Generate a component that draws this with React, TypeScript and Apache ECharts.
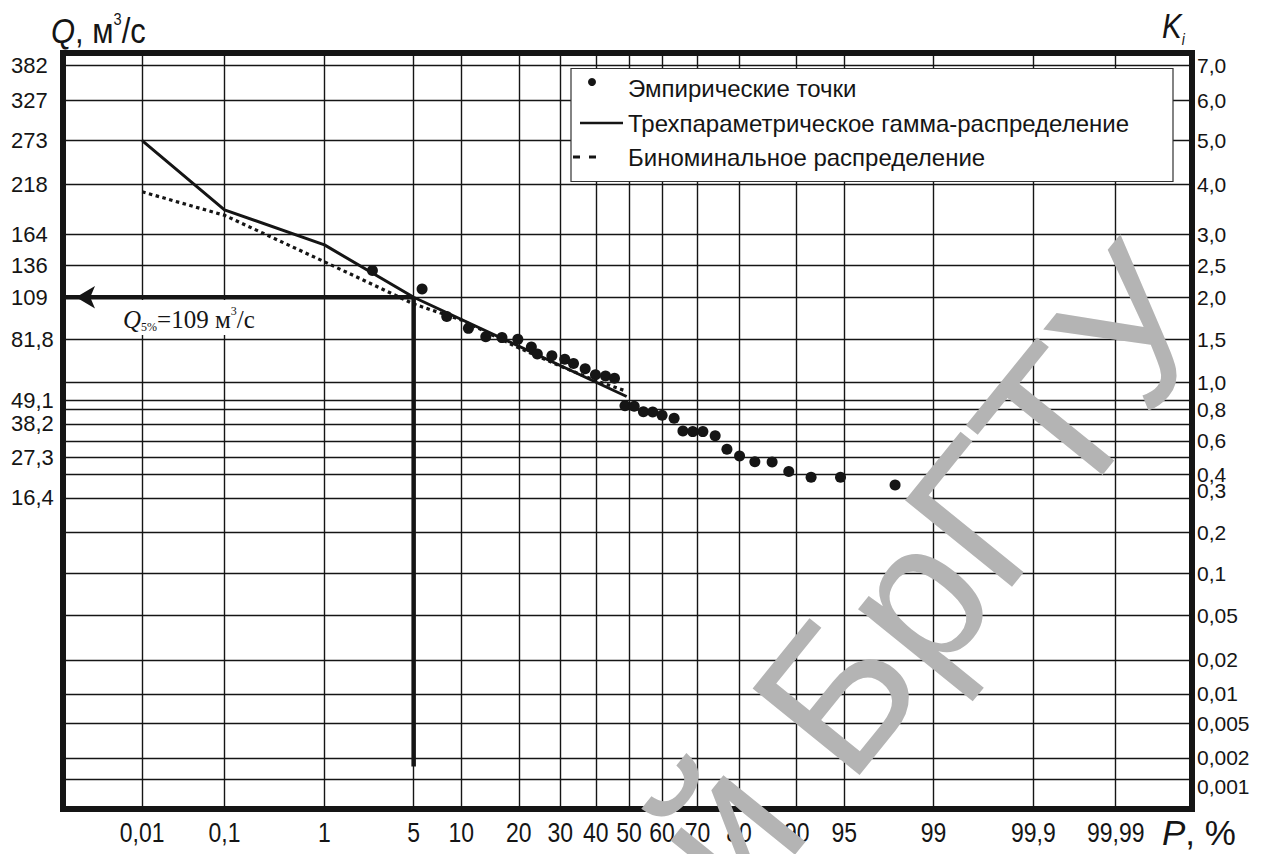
import React, { useEffect, useRef } from "react";
import * as echarts from "echarts";

// Exceedance probability grid, %
const pTicks = [0.01, 0.1, 1, 5, 10, 20, 30, 40, 50, 60, 70, 80, 90, 95, 99, 99.9, 99.99];
const pTickLabels = ["0,01", "0,1", "1", "5", "10", "20", "30", "40", "50", "60", "70", "80", "90", "95", "99", "99,9", "99,99"];

// Modular coefficient grid: K values and their ordinates on the probability paper (% of its height)
const kTicks = [0.001, 0.002, 0.005, 0.01, 0.02, 0.05, 0.1, 0.2, 0.3, 0.4, 0.5, 0.6, 0.7, 0.8, 0.9, 1.0, 1.5, 2.0, 2.5, 3.0, 4.0, 5.0, 6.0, 7.0];
const kOrdinates = [3.97, 6.75, 11.34, 15.24, 19.71, 25.66, 31.18, 36.6, 41.14, 44.25, 46.49, 48.68, 50.93, 52.84, 54.1, 56.42, 62.13, 67.69, 71.89, 76.02, 82.63, 88.4, 93.78, 98.32];
const kTickLabels = ["0,001", "0,002", "0,005", "0,01", "0,02", "0,05", "0,1", "0,2", "0,3", "0,4", "", "0,6", "", "0,8", "", "1,0", "1,5", "2,0", "2,5", "3,0", "4,0", "5,0", "6,0", "7,0"];

// Discharge scale on the left (Q = K · Qmean)
const qTicksK = [7.0, 6.0, 5.0, 4.0, 3.0, 2.5, 2.0, 1.5, 0.9, 0.7, 0.5, 0.3];
const qTickLabels = ["382", "327", "273", "218", "164", "136", "109", "81,8", "49,1", "38,2", "27,3", "16,4"];

// Empirical points
const empiricalP = [2.5, 5.7, 8.2, 11.0, 13.7, 16.6, 19.8, 22.8, 24.2, 27.8, 31.2, 33.6, 36.9, 39.9, 42.9, 45.6, 48.8, 51.6, 54.4, 57.2, 60.0, 63.5, 66.0, 68.7, 71.4, 74.5, 77.3, 80.1, 83.2, 86.3, 88.9, 91.8, 94.7, 97.9];
const empiricalK = [2.42, 2.13, 1.77, 1.63, 1.53, 1.52, 1.5, 1.41, 1.33, 1.31, 1.27, 1.22, 1.16, 1.09, 1.075, 1.05, 0.84, 0.835, 0.785, 0.783, 0.76, 0.739, 0.659, 0.655, 0.655, 0.631, 0.55, 0.509, 0.475, 0.474, 0.417, 0.388, 0.388, 0.355];

// Three-parameter gamma distribution
const gammaP = [0.01, 0.1, 1, 5, 49.3];
const gammaK = [5.0, 3.49, 2.83, 2.0, 0.92];

// Binomial distribution
const binomP = [0.01, 0.1, 1, 5, 10, 20, 30, 40, 49.3];
const binomK = [3.85, 3.38, 2.56, 1.92, 1.73, 1.4, 1.19, 1.02, 0.95];

// Design discharge of 5 % exceedance
const designP = 5;
const designK = 2.0;
const designLineEndK = 0.0016;

const legendNames = ["Эмпирические точки", "Трехпараметрическое гамма-распределение", "Биноминальное распределение"];

// Inverse of the standard normal distribution (Acklam)
function normInv(p: number): number {
  const a = [-3.969683028665376e1, 2.209460984245205e2, -2.759285104469687e2, 1.38357751867269e2, -3.066479806614716e1, 2.506628277459239];
  const b = [-5.447609879822406e1, 1.615858368580409e2, -1.556989798598866e2, 6.680131188771972e1, -1.328068155288572e1];
  const c = [-7.784894002430293e-3, -3.223964580411365e-1, -2.400758277161838, -2.549732539343734, 4.374664141464968, 2.938163982698783];
  const d = [7.784695709041462e-3, 3.224671290700398e-1, 2.445134137142996, 3.754408661907416];
  const pl = 0.02425;
  if (p < pl) {
    const q = Math.sqrt(-2 * Math.log(p));
    return (((((c[0] * q + c[1]) * q + c[2]) * q + c[3]) * q + c[4]) * q + c[5]) / ((((d[0] * q + d[1]) * q + d[2]) * q + d[3]) * q + 1);
  }
  if (p > 1 - pl) {
    const q = Math.sqrt(-2 * Math.log(1 - p));
    return -(((((c[0] * q + c[1]) * q + c[2]) * q + c[3]) * q + c[4]) * q + c[5]) / ((((d[0] * q + d[1]) * q + d[2]) * q + d[3]) * q + 1);
  }
  const q = p - 0.5;
  const r = q * q;
  return ((((((a[0] * r + a[1]) * r + a[2]) * r + a[3]) * r + a[4]) * r + a[5]) * q) / (((((b[0] * r + b[1]) * r + b[2]) * r + b[3]) * r + b[4]) * r + 1);
}

// Probability (%) to the normal-probability abscissa
const px = (p: number) => normInv(p / 100);

// K to the paper ordinate, piecewise between grid lines
function ky(k: number): number {
  for (let i = 0; i < kTicks.length - 1; i++) {
    if (k >= kTicks[i] && k <= kTicks[i + 1]) {
      const t = (k - kTicks[i]) / (kTicks[i + 1] - kTicks[i]);
      return kOrdinates[i] + t * (kOrdinates[i + 1] - kOrdinates[i]);
    }
  }
  return k < kTicks[0] ? kOrdinates[0] : kOrdinates[kOrdinates.length - 1];
}

const X_MIN = -4.324;
const X_MAX = 4.302;

const INK = "#151515";
const SANS = "'Liberation Sans', Arial, sans-serif";
const SERIF = "'Liberation Serif', 'Times New Roman', serif";
// condensed lettering of the axis captions
const NARROW_SCALE = 0.82;

function lookup(values: number[], labels: string[], v: number): string {
  for (let i = 0; i < values.length; i++) if (Math.abs(values[i] - v) < 1e-6) return labels[i];
  return "";
}

function buildOption(extraGraphic: any[]) {
  const xTickValues = pTicks.map(px);
  const kTickValues = kTicks.map(ky);
  const qTickValues = qTicksK.map(ky);
  const gridLine = { show: true, lineStyle: { color: INK, width: 1.4 } };

  return {
    animation: false,
    backgroundColor: "#ffffff",
    grid: {
      left: 63,
      top: 53,
      width: 1129,
      height: 756,
      show: true,
      borderColor: INK,
      borderWidth: 6,
      backgroundColor: "transparent",
    },
    xAxis: {
      type: "value",
      min: X_MIN,
      max: X_MAX,
      axisLine: { show: false },
      axisTick: { show: false, customValues: xTickValues },
      splitLine: gridLine,
      axisLabel: { show: false },
    },
    yAxis: [
      {
        type: "value",
        position: "left",
        min: 0,
        max: 100,
        axisLine: { show: false },
        axisTick: { show: false, customValues: kTickValues },
        splitLine: gridLine,
        axisLabel: {
          customValues: qTickValues,
          formatter: (v: number) => lookup(qTickValues, qTickLabels, v),
          showMinLabel: true,
          showMaxLabel: true,
          hideOverlap: false,
          fontFamily: SANS,
          fontSize: 22,
          lineHeight: 14,
          color: INK,
          align: "left",
          margin: 52,
        },
      },
      {
        type: "value",
        position: "right",
        min: 0,
        max: 100,
        axisLine: { show: false },
        axisTick: { show: false },
        splitLine: { show: false },
        axisLabel: { show: false },
      },
    ],
    series: [
      {
        name: legendNames[1],
        type: "line",
        data: gammaP.map((p, i) => [px(p), ky(gammaK[i])]),
        symbol: "none",
        lineStyle: { color: INK, width: 3 },
        z: 5,
      },
      {
        name: legendNames[2],
        type: "line",
        data: binomP.map((p, i) => [px(p), ky(binomK[i])]),
        symbol: "none",
        lineStyle: { color: INK, width: 3.2, type: [3.5, 3.5] },
        z: 5,
      },
      {
        name: legendNames[0],
        type: "scatter",
        data: empiricalP.map((p, i) => [px(p), ky(empiricalK[i])]),
        symbol: "circle",
        symbolSize: 11,
        itemStyle: { color: INK, opacity: 1 },
        z: 6,
      },
      {
        name: "design-horizontal",
        type: "line",
        data: [
          [px(designP), ky(designK)],
          [X_MIN, ky(designK)],
        ],
        symbol: "none",
        lineStyle: { color: INK, width: 4.5 },
        z: 4,
      },
      {
        name: "design-vertical",
        type: "line",
        data: [
          [px(designP), ky(designK)],
          [px(designP), ky(designLineEndK)],
        ],
        symbol: "none",
        lineStyle: { color: INK, width: 4.5 },
        z: 4,
      },
      {
        name: "design-arrow",
        type: "scatter",
        data: [[X_MIN, ky(designK)]],
        symbol: "arrow",
        symbolSize: [17, 19],
        symbolRotate: 90,
        symbolOffset: [13, 0],
        itemStyle: { color: INK, opacity: 1 },
        z: 7,
      },
    ],
    graphic: [
      // axis titles
      {
        type: "text",
        x: 51,
        y: 30,
        z: 20,
        scaleX: 0.86,
        style: {
          text: "{q|Q}{t|, м}{s|3}{t|/с}",
          verticalAlign: "middle",
          rich: {
            q: { fontFamily: SANS, fontSize: 36, fontStyle: "italic", fill: INK, lineHeight: 38, verticalAlign: "bottom" },
            t: { fontFamily: SANS, fontSize: 36, fill: INK, lineHeight: 38, verticalAlign: "bottom" },
            s: { fontFamily: SANS, fontSize: 17, fill: INK, lineHeight: 38, verticalAlign: "top" },
          },
        },
      },
      {
        type: "text",
        x: 1162,
        y: 27,
        z: 20,
        scaleX: NARROW_SCALE,
        style: {
          text: "{k|K}{i|i}",
          verticalAlign: "middle",
          rich: {
            k: { fontFamily: SANS, fontSize: 36, fontStyle: "italic", fill: INK, lineHeight: 40, verticalAlign: "top" },
            i: { fontFamily: SANS, fontSize: 17, fontStyle: "italic", fill: INK, lineHeight: 40, verticalAlign: "bottom" },
          },
        },
      },
      {
        type: "text",
        x: 1162,
        y: 832,
        z: 20,
        style: {
          text: "{p|P}{t|, %}",
          verticalAlign: "middle",
          rich: {
            p: { fontFamily: SANS, fontSize: 35, fontStyle: "italic", fill: INK },
            t: { fontFamily: SANS, fontSize: 35, fill: INK },
          },
        },
      },
      // design discharge label
      {
        type: "rect",
        z: 30,
        shape: { x: 116, y: 300, width: 154, height: 35 },
        style: { fill: "#ffffff" },
      },
      {
        type: "text",
        x: 123,
        y: 319,
        z: 31,
        style: {
          text: "{q|Q}{s|5%}{n|=109 м}{u|3}{n|/с}",
          verticalAlign: "middle",
          rich: {
            q: { fontFamily: SERIF, fontSize: 25, fontStyle: "italic", fill: INK, lineHeight: 28, verticalAlign: "middle" },
            s: { fontFamily: SERIF, fontSize: 12, fill: INK, lineHeight: 28, verticalAlign: "bottom" },
            n: { fontFamily: SERIF, fontSize: 25, fill: INK, lineHeight: 28, verticalAlign: "middle" },
            u: { fontFamily: SERIF, fontSize: 12, fill: INK, lineHeight: 28, verticalAlign: "top" },
          },
        },
      },
      // legend
      {
        type: "rect",
        z: 30,
        shape: { x: 571, y: 68.5, width: 602, height: 113 },
        style: { fill: "#ffffff", stroke: "#333333", lineWidth: 1.2 },
      },
      { type: "circle", z: 31, shape: { cx: 592, cy: 82, r: 4 }, style: { fill: INK } },
      { type: "line", z: 31, shape: { x1: 580, y1: 123, x2: 623, y2: 123 }, style: { stroke: INK, lineWidth: 2.5 } },
      { type: "line", z: 31, shape: { x1: 573, y1: 157, x2: 580, y2: 157 }, style: { stroke: INK, lineWidth: 3 } },
      { type: "line", z: 31, shape: { x1: 589, y1: 157, x2: 596, y2: 157 }, style: { stroke: INK, lineWidth: 3 } },
      ...legendNames.map((name, i) => ({
        type: "text",
        z: 31,
        x: 628,
        y: [88, 123, 157][i],
        style: { text: name, fontFamily: SANS, fontSize: 24, fill: INK, verticalAlign: "middle" },
      })),
      // repository watermark
      {
        type: "text",
        z: 100,
        x: 1095,
        y: 215,
        rotation: 0.89,
        style: {
          text: "Репозиторий БрГТУ",
          fontFamily: SANS,
          fontSize: 200,
          fill: "#b4b4b4",
          align: "right",
        },
      },
      ...extraGraphic,
    ],
  };
}

export default function App() {
  const ref = useRef<HTMLDivElement>(null);

  useEffect(() => {
    document.body.style.margin = "0";
    if (!ref.current) return;
    const chart = echarts.init(ref.current, null, { renderer: "svg" });
    chart.setOption(buildOption([]));

    // probability captions under the grid, placed through the x axis scale
    const xLabels = pTicks.map((p, i) => {
      const pt = chart.convertToPixel({ gridIndex: 0 }, [px(p), 0]) as number[];
      return {
        type: "text",
        z: 20,
        x: pt[0],
        y: 832,
        scaleX: NARROW_SCALE,
        style: {
          text: pTickLabels[i],
          fontFamily: SANS,
          fontSize: 28,
          fill: INK,
          align: "center",
          verticalAlign: "middle",
        },
      };
    });

    // K captions beside the right edge, placed through the right y axis scale;
    // the two crowded ones are nudged apart from their neighbours
    const nudge: Record<string, number> = { "0,3": -7, "0,001": 8 };
    const kLabels = kTicks
      .map((k, i) => ({ k, label: kTickLabels[i] }))
      .filter((d) => d.label !== "")
      .map((d) => {
        const y = chart.convertToPixel({ yAxisIndex: 1 }, ky(d.k)) as number;
        return {
          type: "text",
          z: 20,
          x: 1197,
          y: y + (nudge[d.label] || 0),
          style: {
            text: d.label,
            fontFamily: SANS,
            fontSize: 21,
            fill: INK,
            align: "left",
            verticalAlign: "middle",
          },
        };
      });

    chart.setOption(buildOption([...xLabels, ...kLabels]), true);

    return () => chart.dispose();
  }, []);

  return <div ref={ref} style={{ width: 1264, height: 854 }} />;
}
